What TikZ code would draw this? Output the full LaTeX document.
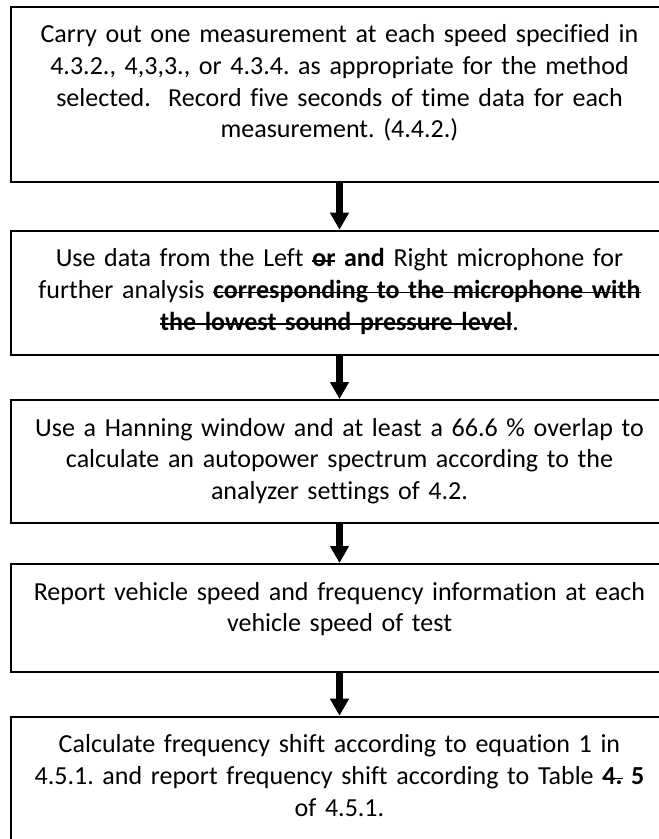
\documentclass[tikz,border=0pt]{standalone}
\usepackage{fontspec}
\setmainfont{Carlito}[Ligatures=NoCommon]
\usetikzlibrary{positioning,arrows.meta}
\frenchspacing

%struck-through words
\newsavebox{\struckbox}
\newcommand{\struck}[1]{\leavevmode\sbox{\struckbox}{#1}\rlap{\rule[0.2em]{\wd\struckbox}{1.8pt}}\usebox{\struckbox}}

\begin{document}
\begin{tikzpicture}[x=1pt,y=1pt,
  stepbox/.style={draw,line width=2pt,minimum width=657pt,inner sep=0pt},
  steptext/.style={inner sep=0pt,text width=680pt,align=center,font=\fontsize{26pt}{31.7pt}\selectfont},
  steparrow/.style={line width=7pt,-{Triangle[width=18pt,length=17pt]}}]

\useasboundingbox (0,0) rectangle (659,-839);
\clip (0,0) rectangle (659,-839);

%draw the five boxes, one under the other
\node[stepbox,minimum height=175pt] (s1) at (339.5,-94.2) {};
\node[stepbox,minimum height=124.3pt] (s2) at (339.5,-292.85) {};
\node[stepbox,minimum height=122.7pt] (s3) at (339.5,-461.35) {};
\node[stepbox,minimum height=108pt] (s4) at (339.5,-618) {};
\node[stepbox,minimum height=138pt] (s5) at (339.5,-785.7) {};

%text of each box, hung from the top edge
\node[steptext,below=14.8pt of s1.north] (t1) {\strut Carry out one measurement at each speed specified in\\
4.3.2., 4,3,3., or 4.3.4. as appropriate for the method\\
selected.\ \ Record five seconds of time data for each\\
measurement. (4.4.2.)};
\node[steptext,below=14.8pt of s2.north] (t2) {\strut Use data from the Left \textbf{\struck{or} and} Right microphone for\\
further analysis \textbf{\struck{corresponding to the microphone with}}\\
\textbf{\struck{the lowest sound pressure level}}.};
\node[steptext,below=14.8pt of s3.north] (t3) {\strut Use a Hanning window and at least a 66.6 \% overlap to\\
calculate an autopower spectrum according to the\\
analyzer settings of 4.2.};
\node[steptext,below=14.8pt of s4.north] (t4) {\strut Report vehicle speed and frequency information at each\\
vehicle speed of test};
\node[steptext,below=14.8pt of s5.north] (t5) {\strut Calculate frequency shift according to equation 1 in\\
4.5.1. and report frequency shift according to Table \textbf{\struck{4.} 5}\\
of 4.5.1.};

%arrows between the boxes
\draw[steparrow] (s1) -- (s2);
\draw[steparrow] (s2) -- (s3);
\draw[steparrow] (s3) -- (s4);
\draw[steparrow] (s4) -- (s5);

\end{tikzpicture}
\end{document}
